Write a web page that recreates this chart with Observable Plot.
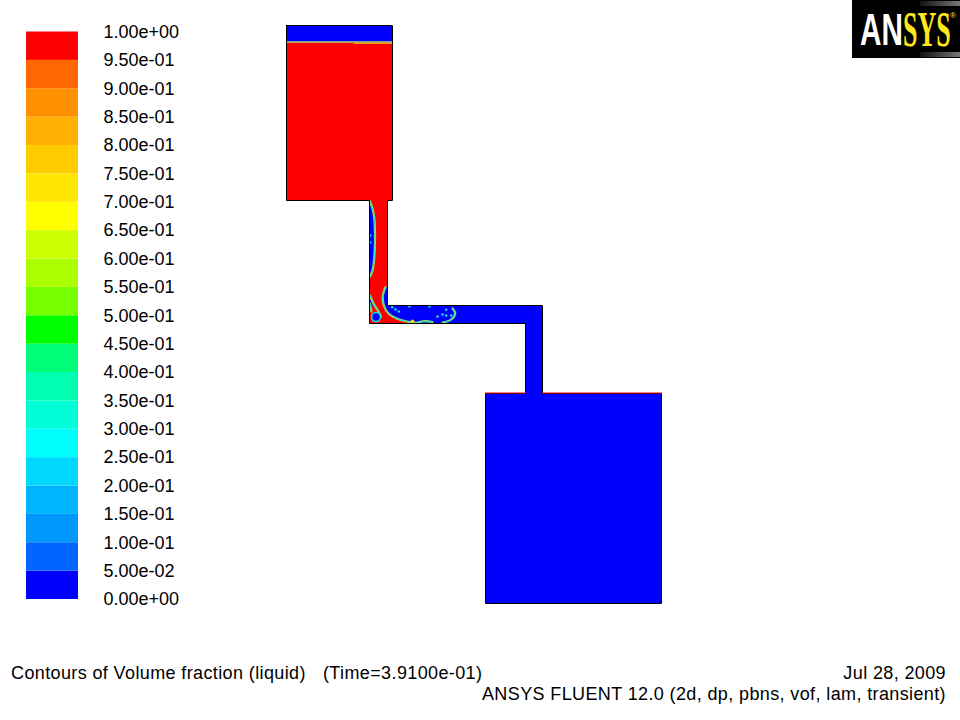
<!DOCTYPE html>
<html>
<head>
<meta charset="utf-8">
<script src="https://cdn.jsdelivr.net/npm/d3@7"></script>
<script src="https://cdn.jsdelivr.net/npm/@observablehq/plot@0.6"></script>
<style>
  html, body { margin: 0; padding: 0; background: #fff; }
  #page { position: relative; width: 960px; height: 720px; overflow: hidden; font-family: "Liberation Sans", Arial, sans-serif; color: #000; }
  #legend { position: absolute; left: 0; top: 0; }
  #flow { position: absolute; left: 200px; top: 0; }
  .foot { position: absolute; font-size: 18px; line-height: 20px; white-space: pre; letter-spacing: .38px; }
  #logo { position: absolute; left: 852px; top: 0; }
</style>
</head>
<body>
<div id="page">
  <div id="legend"></div>
  <div id="flow"></div>
  <div class="foot" style="left:11px;top:663px">Contours of Volume fraction (liquid)</div>
  <div class="foot" style="left:323px;top:663px">(Time=3.9100e-01)</div>
  <div class="foot" style="right:14px;top:663px">Jul 28, 2009</div>
  <div class="foot" style="right:14px;top:684px">ANSYS FLUENT 12.0 (2d, dp, pbns, vof, lam, transient)</div>
  <svg id="logo" width="108" height="58" viewBox="0 0 108 58">
    <defs><linearGradient id="lg" x1="0" x2="1" y1="0" y2="0"><stop offset="0" stop-color="#111"/><stop offset="1" stop-color="#777"/></linearGradient></defs>
    <rect width="108" height="58" fill="#000"/>
    <rect x="68" y="1" width="40" height="5" fill="url(#lg)"/>
    <rect x="68" y="52" width="40" height="5" fill="url(#lg)"/>
    <text transform="translate(8,45) scale(0.66,1)" font-family="Liberation Sans" font-weight="700" font-size="45" fill="#fff">AN</text>
    <text transform="translate(51,46) scale(0.52,1)" font-family="Liberation Serif" font-weight="700" font-size="50" fill="#ffe81a">SYS</text>
    <text x="98" y="18" font-family="Liberation Sans" font-size="8" fill="#ffe81a">®</text>
  </svg>
</div>
<script>
// Colour legend: tick labels (top to bottom) and band colours (bottom band first)
const tickLabels = ["1.00e+00","9.50e-01","9.00e-01","8.50e-01","8.00e-01","7.50e-01","7.00e-01","6.50e-01","6.00e-01","5.50e-01","5.00e-01","4.50e-01","4.00e-01","3.50e-01","3.00e-01","2.50e-01","2.00e-01","1.50e-01","1.00e-01","5.00e-02","0.00e+00"];
const bandColors = ["#0000ff","#0066ff","#0098ff","#00b4ff","#00d8ff","#00ffff","#00ffd8","#00ffb0","#00ff78","#00ff00","#78ff00","#aaff00","#ccff00","#ffff00","#ffe600","#ffcc00","#ffb000","#ff9000","#ff6800","#ff0000"];

// Domain geometry in model units: walls as a closed outline
const wallX = [0,106,106,101,101,256,256,375,375,199,199,239,239,83,83,0,0];
const wallY = [578,578,403,403,298,298,210,210,0,0,210,210,280,280,403,403,578];

// Regions of uniform volume fraction
const regionX1 = [0,0,83,101,101,239,199];
const regionX2 = [106,106,101,256,131,256,375];
const regionY1 = [561,403,280,280,280,210,0];
const regionY2 = [578,561,403,298,298,280,210];
const regionVof = [0,1,1,0,1,0,0];

// Gas pocket on the left wall of the neck
const pocketY = [402,393,383,363,343,333,327];
const pocketX = [83.5,86.5,88,88.5,87.5,86,83.5];

// Gas on the right of the jet, with its right limit
const jetY  = [316.3,308,298,298,289.7,284.7,282,280.3];
const jetX  = [99,96.3,97.3,97.3,102.3,110.7,120.7,131];
const jetX2 = [101,101,101,143,143,143,143,143];

// Small wedge and bubble at the lower left corner of the jet
const wedgeY = [303,296];
const wedgeX = [85,87];
const wedgeLineX = [83.5,87,92,94.5];
const wedgeLineY = [308,300,292,287];
const wedgeInnerX = [83.5,85];
const wedgeInnerY = [300,292];
const bubbleX = [89.5];
const bubbleY = [286.5];

// Other interface contours in the channel
const arcX = [156,164.7,168.7,166];
const arcY = [281,284,290,295];
const swirlX = [131,138,146];
const swirlY = [281,282.3,281.5];
const dropX = [151,156,159.7,159.7,164.7,105.7,109,112.3,143,123,83.7,83.7];
const dropY = [287,289,293.7,288,288,296.3,294,292,297.3,297.3,368,361];
const hotX = [126];
const hotY = [282];

// Free surface at the top reservoir and film on the lower reservoir roof
const surfaceX = [0,106];
const surfaceY = [561.5,561.5];
const surfaceHotX = [68,106];
const surfaceHotY = [560,560];
const roofX = [199,239,null,256,375];
const roofY = [210.5,210.5,null,210.5,210.5];

const levels = tickLabels.map(Number).reverse();
const bands = bandColors.map((c, i) => ({lo: levels[i], hi: levels[i + 1], c}));
const colorOf = v => bandColors[Math.min(bandColors.length - 1, Math.floor(v * bandColors.length))];

document.getElementById("legend").append(Plot.plot({
  width: 200, height: 660,
  marginLeft: 26, marginRight: 122, marginTop: 0, marginBottom: 0,
  y: {domain: [0, 1], range: [599, 31.5], axis: null},
  marks: [
    Plot.rect(bands, {y1: "lo", y2: "hi", fill: "c"}),
    Plot.text(tickLabels, {y: d => +d, text: d => d, frameAnchor: "left", dx: 77, textAnchor: "start",
      fontSize: 18, fontFamily: "Liberation Sans", fill: "#000"})
  ]
}));

const regions = regionVof.map((v, i) => ({x1: regionX1[i], x2: regionX2[i], y1: regionY1[i], y2: regionY2[i], v}));
const pts = (xs, ys) => xs.map((x, i) => ({x, y: ys[i]}));
const gas = colorOf(0);
const contourOuter = "#a8e050";
const contourInner = "#19e0c8";
const contour = (data) => [
  Plot.line(data, {x: "x", y: "y", stroke: contourOuter, strokeWidth: 2.2, curve: "catmull-rom"}),
  Plot.line(data, {x: "x", y: "y", stroke: contourInner, strokeWidth: 1, curve: "catmull-rom"})
];

document.getElementById("flow").append(Plot.plot({
  width: 640, height: 660,
  margin: 0,
  x: {domain: [-86, 554], range: [0, 640], axis: null},
  y: {domain: [-57, 603], range: [660, 0], axis: null},
  style: {background: "transparent"},
  marks: [
    Plot.rect(regions, {x1: "x1", x2: "x2", y1: "y1", y2: "y2", fill: d => colorOf(d.v)}),
    Plot.areaX(pocketY.map((y, i) => ({y, x2: pocketX[i]})), {y: "y", x1: 83, x2: "x2", fill: gas, curve: "catmull-rom"}),
    Plot.areaX(jetY.map((y, i) => ({y, x1: jetX[i], x2: jetX2[i]})), {y: "y", x1: "x1", x2: "x2", fill: gas}),
    Plot.areaX(wedgeY.map((y, i) => ({y, x2: wedgeX[i]})), {y: "y", x1: 83.5, x2: "x2", fill: gas}),
    ...contour(pts(pocketX, pocketY)),
    ...contour(pts(jetX.filter((_, i) => i !== 3), jetY.filter((_, i) => i !== 3))),
    ...contour(pts(wedgeLineX, wedgeLineY)),
    ...contour(pts(wedgeInnerX, wedgeInnerY)),
    ...contour(pts(arcX, arcY)),
    ...contour(pts(swirlX, swirlY)),
    Plot.dot(pts(bubbleX, bubbleY), {x: "x", y: "y", r: 4.5, fill: gas, stroke: contourInner, strokeWidth: 1.6}),
    Plot.dot(pts(dropX, dropY), {x: "x", y: "y", r: 1.3, fill: contourInner}),
    Plot.dot(pts(hotX, hotY), {x: "x", y: "y", r: 2, fill: "#ffd000"}),
    Plot.line(pts(surfaceX, surfaceY), {x: "x", y: "y", stroke: "#a8d870", strokeWidth: 1.5}),
    Plot.line(pts(surfaceHotX, surfaceHotY), {x: "x", y: "y", stroke: "#f0a000", strokeWidth: 1}),
    Plot.line(pts(wallX, wallY), {x: "x", y: "y", stroke: "#000", strokeWidth: 1}),
    Plot.line(pts(roofX, roofY), {x: "x", y: "y", stroke: "#ff0000", strokeWidth: 1})
  ]
}));
</script>
</body>
</html>
